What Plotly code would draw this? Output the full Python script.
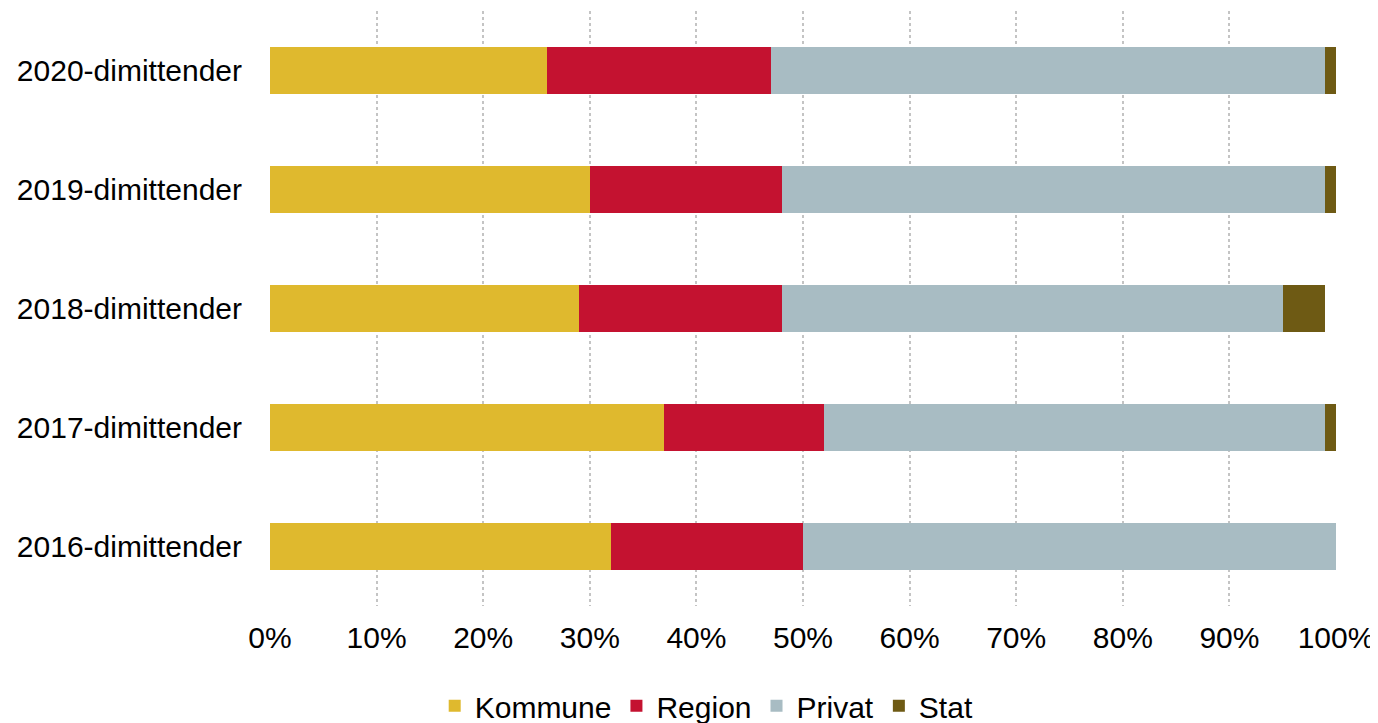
import plotly.graph_objects as go

years = ["2016-dimittender", "2017-dimittender", "2018-dimittender",
         "2019-dimittender", "2020-dimittender"]

kommune = [32, 37, 29, 30, 26]
region = [18, 15, 19, 18, 21]
privat = [50, 47, 47, 51, 52]
stat = [0, 1, 4, 1, 1]

pct_ticks = [0, 10, 20, 30, 40, 50, 60, 70, 80, 90, 100]
pct_labels = ["0%", "10%", "20%", "30%", "40%", "50%", "60%", "70%",
              "80%", "90%", "100%"]

series = [
    ("Kommune", kommune, "#DFB92E"),
    ("Region", region, "#C41230"),
    ("Privat", privat, "#A8BCC3"),
    ("Stat", stat, "#6E5A14"),
]

fig = go.Figure()

for name, vals, color in series:
    fig.add_trace(go.Bar(
        y=years,
        x=vals,
        name=name,
        orientation='h',
        marker=dict(color=color, line=dict(width=0)),
        hovertemplate="%{y}<br>" + name + ": %{x}%<extra></extra>"
    ))

# page body has an 8px margin, so the figure is sized to fit inside the window
fig.update_layout(
    barmode='stack',
    bargap=0.6,
    width=1370,
    height=715,
    margin=dict(l=262, r=42, t=3, b=117),
    paper_bgcolor='white',
    plot_bgcolor='white',
    font=dict(family="Liberation Sans, Arial, sans-serif", size=30, color='black'),
    showlegend=True,
    legend=dict(
        orientation='h',
        xref='container',
        yref='container',
        x=0.51,
        y=0.024,
        xanchor='center',
        yanchor='middle',
        font=dict(size=30),
        itemwidth=30,
        traceorder='normal'
    ),
    xaxis=dict(
        range=[0, 100],
        tickvals=pct_ticks,
        ticktext=pct_labels,
        showgrid=True,
        gridcolor='#C4C4C4',
        griddash='dot',
        gridwidth=2,
        zeroline=False,
        showline=False,
        ticklabelstandoff=11
    ),
    yaxis=dict(
        showgrid=False,
        zeroline=False,
        showline=False,
        ticklabelstandoff=27
    )
)

fig.write_html("out.html")
